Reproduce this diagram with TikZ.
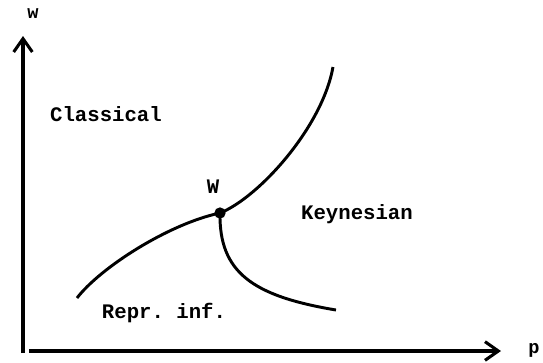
\documentclass[tikz,border=0pt]{standalone}
\usepackage{fontspec}
\setmonofont{Liberation Mono}
\usetikzlibrary{arrows.meta}
\tikzset{
  axisline/.style={line width=2.6pt, -{Straight Barb[length=10pt,width=14pt,line width=2.3pt]}},
  curveline/.style={line width=2.2pt},
  lbl/.style={font=\ttfamily\bfseries\fontsize{15.5}{18}\selectfont, inner sep=0pt},
  axlbl/.style={font=\ttfamily\bfseries\fontsize{14}{16}\selectfont, inner sep=0pt},
}
\begin{document}
\begin{tikzpicture}[x=0.75pt,y=-0.75pt]
\useasboundingbox (0,0) rectangle (543,362);
% axes
\coordinate (o1) at (23,353);
\coordinate (ytip) at (23,36);
\coordinate (o2) at (29,351);
\coordinate (xtip) at (501,351);
\draw[axisline] (o1) -- (ytip);
\draw[axisline] (o2) -- (xtip);
\node[axlbl] (wl) at (33,14) {w};
\node[axlbl] (pl) at (534,350) {p};
% curves
\node[circle, fill=black, inner sep=0pt, minimum size=8.5pt] (W) at (220,213) {};
\coordinate (a0) at (77,298);
\coordinate (a1) at (333,67);
\coordinate (b1) at (336,310);
\draw[curveline] (a0) .. controls (100,268) and (168,224) .. (W.center)
  .. controls (258,198) and (322,128) .. (a1);
\draw[curveline] (W.center) .. controls (219,272) and (252,296) .. (b1);
% labels
\node[lbl] (cl) at (106,114) {Classical};
\node[lbl] (wlab) at (213,187) {W};
\node[lbl] (ke) at (357,214) {Keynesian};
\node[lbl] (ri) at (164,313) {Repr. inf.};
\end{tikzpicture}
\end{document}
